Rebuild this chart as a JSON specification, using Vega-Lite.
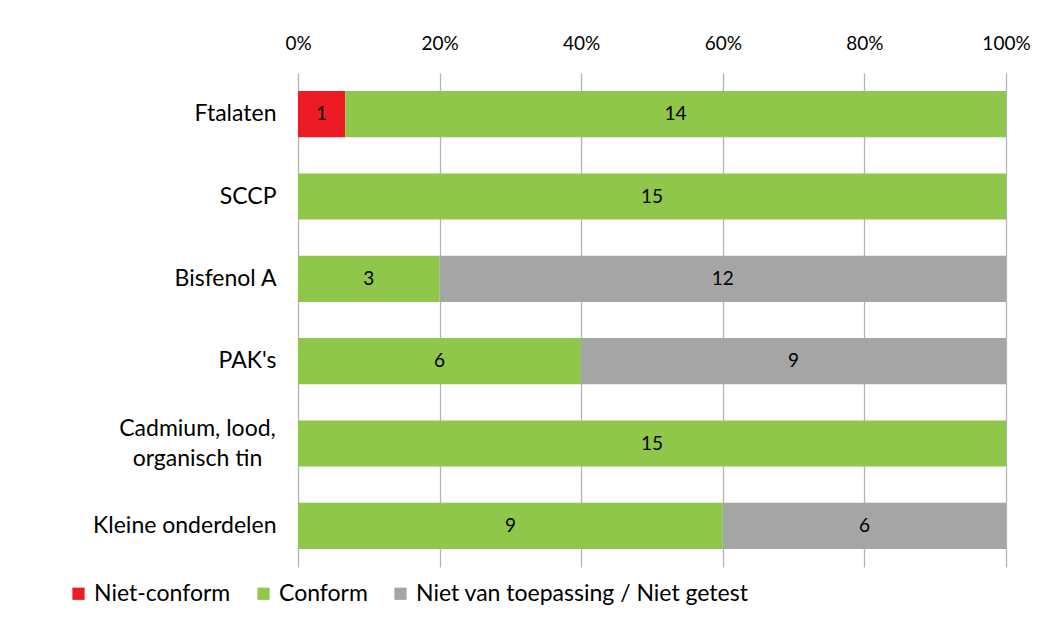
{
  "$schema": "https://vega.github.io/schema/vega-lite/v6.json",
  "width": 708,
  "height": 494,
  "autosize": {"type": "none"},
  "padding": {"left": 298, "top": 73, "right": 48, "bottom": 52},
  "background": "white",
  "config": {
    "view": {"stroke": null},
    "font": "Lato"
  },
  "data": {
    "values": [
      {"categorie": "Ftalaten", "status": "Niet-conform", "orde": 1, "aantal": 1},
      {"categorie": "Ftalaten", "status": "Conform", "orde": 2, "aantal": 14},
      {"categorie": "SCCP", "status": "Conform", "orde": 2, "aantal": 15},
      {"categorie": "Bisfenol A", "status": "Conform", "orde": 2, "aantal": 3},
      {"categorie": "Bisfenol A", "status": "Niet van toepassing / Niet getest", "orde": 3, "aantal": 12},
      {"categorie": "PAK's", "status": "Conform", "orde": 2, "aantal": 6},
      {"categorie": "PAK's", "status": "Niet van toepassing / Niet getest", "orde": 3, "aantal": 9},
      {"categorie": "Cadmium, lood, organisch tin", "status": "Conform", "orde": 2, "aantal": 15},
      {"categorie": "Kleine onderdelen", "status": "Conform", "orde": 2, "aantal": 9},
      {"categorie": "Kleine onderdelen", "status": "Niet van toepassing / Niet getest", "orde": 3, "aantal": 6}
    ]
  },
  "transform": [
    {"stack": "aantal", "groupby": ["categorie"], "sort": [{"field": "orde", "order": "ascending"}], "offset": "normalize", "as": ["x0", "x1"]}
  ],
  "encoding": {
    "y": {
      "field": "categorie",
      "type": "nominal",
      "sort": ["Ftalaten", "SCCP", "Bisfenol A", "PAK's", "Cadmium, lood, organisch tin", "Kleine onderdelen"],
      "scale": {"paddingInner": 0.44, "paddingOuter": 0.22},
      "axis": {
        "title": null,
        "ticks": false,
        "domain": false,
        "labelFontSize": 23,
        "labelColor": "#000000",
        "labelAlign": {"condition": {"test": "datum.value == 'Cadmium, lood, organisch tin'", "value": "center"}, "value": "right"},
        "labelPadding": {"condition": {"test": "datum.value == 'Cadmium, lood, organisch tin'", "value": 101}, "value": 22},
        "labelOffset": {"condition": {"test": "datum.value == 'Cadmium, lood, organisch tin'", "value": -15}, "value": 0},
        "labelLineHeight": 30,
        "labelLimit": 300,
        "labelExpr": "datum.label == 'Cadmium, lood, organisch tin' ? ['Cadmium, lood,', 'organisch tin'] : datum.label"
      }
    }
  },
  "layer": [
    {
      "mark": {"type": "bar"},
      "encoding": {
        "x": {
          "field": "x0",
          "type": "quantitative",
          "scale": {"domain": [0, 1]},
          "axis": {
            "orient": "top",
            "title": null,
            "format": "%",
            "values": [0, 0.2, 0.4, 0.6, 0.8, 1],
            "ticks": false,
            "domain": false,
            "grid": true,
            "gridColor": "#b4b4b4",
            "gridWidth": 1.3,
            "labelFlush": false,
            "labelFontSize": 19,
            "labelColor": "#000000",
            "labelPadding": 20
          }
        },
        "x2": {"field": "x1"},
        "color": {
          "field": "status",
          "type": "nominal",
          "sort": ["Niet-conform", "Conform", "Niet van toepassing / Niet getest"],
          "scale": {
            "domain": ["Niet-conform", "Conform", "Niet van toepassing / Niet getest"],
            "range": ["#ED1C24", "#8FC74A", "#A5A5A5"]
          },
          "legend": {
            "title": null,
            "orient": "none",
            "legendX": -231,
            "legendY": 509,
            "direction": "horizontal",
            "symbolType": "square",
            "symbolSize": 150,
            "symbolStrokeWidth": 0,
            "labelFontSize": 23,
            "labelColor": "#000000",
            "labelLimit": 500,
            "labelOffset": 4,
            "columnPadding": 21
          }
        }
      }
    },
    {
      "transform": [
        {"fold": ["x0", "x1"], "as": ["rand", "pos"]},
        {"aggregate": [{"op": "mean", "field": "pos", "as": "midden"}], "groupby": ["categorie", "status", "aantal"]}
      ],
      "mark": {"type": "text", "fontSize": 19, "color": "#000000", "baseline": "middle", "align": "center"},
      "encoding": {
        "x": {"field": "midden", "type": "quantitative"},
        "text": {"field": "aantal", "type": "quantitative"}
      }
    }
  ]
}
